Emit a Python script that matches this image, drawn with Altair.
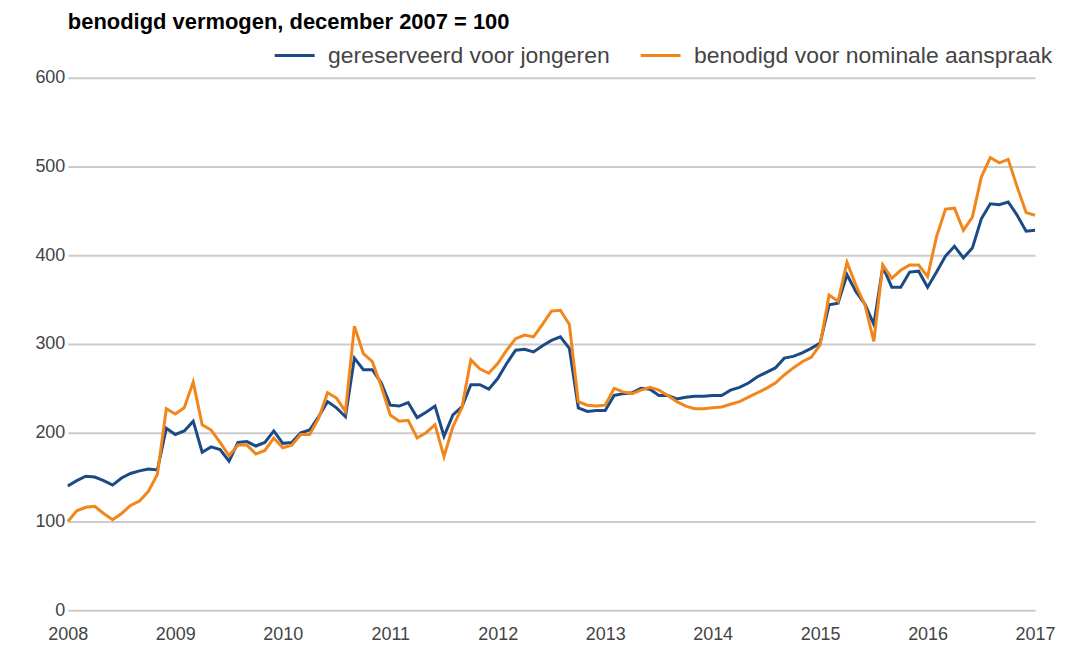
import altair as alt
import pandas as pd

# Monthly values, December 2007 .. December 2016 (index, dec 2007 = 100)
blauw = [140, 146, 151, 150, 146, 141, 149, 154, 157, 159, 158, 205,
         198, 202, 213, 178, 184, 181, 168, 189, 190, 185, 189, 202,
         188, 189, 200, 203, 218, 235, 228, 218, 284, 271, 271, 256,
         231, 230, 234, 217, 223, 230, 196, 220, 229, 254, 254, 249,
         261, 278, 293, 294, 291, 298, 304, 308, 295, 228, 224, 225,
         225, 242, 244, 245, 250, 249, 242, 242, 238, 240, 241, 241,
         242, 242, 248, 251, 256, 263, 268, 273, 284, 286, 290, 295,
         301, 344, 346, 378, 359, 345, 322, 387, 364, 364, 381, 382,
         364, 381, 399, 410, 397, 408, 441, 458, 457, 460, 445, 427, 428]
oranje = [100, 112, 116, 117, 109, 102, 109, 118, 123, 134, 153, 227,
          221, 228, 257, 209, 203, 189, 174, 186, 186, 176, 180, 194,
          183, 186, 198, 198, 216, 245, 239, 224, 320, 289, 280, 252,
          220, 213, 214, 194, 200, 209, 173, 207, 228, 282, 272, 267,
          278, 293, 306, 310, 308, 322, 337, 338, 322, 235, 231, 230,
          231, 250, 246, 244, 248, 251, 248, 242, 235, 230, 227, 227,
          228, 229, 232, 235, 240, 245, 250, 256, 265, 273, 280, 285,
          299, 355, 348, 392, 366, 344, 303, 389, 374, 383, 389, 389,
          376, 421, 452, 453, 428, 443, 488, 510, 504, 508, 477, 448, 445]

reeks_blauw = "gereserveerd voor jongeren"
reeks_oranje = "benodigd voor nominale aanspraak"
jaar_ticks = list(range(2008, 2018))

rows = []
for i, (b, o) in enumerate(zip(blauw, oranje)):
    t = 2008 + i / 12
    rows.append({"t": t, "waarde": b, "reeks": reeks_blauw})
    rows.append({"t": t, "waarde": o, "reeks": reeks_oranje})
df = pd.DataFrame(rows)

FONT = "Liberation Sans"

chart = alt.Chart(df).mark_line(strokeWidth=3).encode(
    x=alt.X("t:Q", title=None,
            scale=alt.Scale(domain=[2008, 2017], nice=False, zero=False),
            axis=alt.Axis(values=jaar_ticks, format="d", grid=False, domain=False,
                          ticks=False, labelPadding=15, labelFontSize=18,
                          labelFlush=False, labelBound=False,
                          labelColor="#444444", labelFont=FONT)),
    y=alt.Y("waarde:Q", title=None,
            scale=alt.Scale(domain=[0, 600], nice=False),
            axis=alt.Axis(values=[0, 100, 200, 300, 400, 500, 600], grid=True,
                          gridColor="#cccccc", gridWidth=2, domain=False, ticks=False,
                          labelPadding=3, labelFontSize=18, labelColor="#444444",
                          labelFont=FONT)),
    color=alt.Color("reeks:N", title=None,
                    scale=alt.Scale(domain=[reeks_blauw, reeks_oranje],
                                    range=["#1c4a87", "#f2861a"]),
                    sort=[reeks_blauw, reeks_oranje],
                    legend=alt.Legend(orient="none", legendX=206, legendY=-44,
                                      direction="horizontal", symbolType="stroke",
                                      symbolSize=1600, symbolStrokeWidth=3,
                                      labelFontSize=23, labelFont=FONT,
                                      labelColor="#444444", columnPadding=24,
                                      labelOffset=12, labelLimit=500)),
).properties(
    width=970,
    height=534,
    title=alt.TitleParams("benodigd vermogen, december 2007 = 100", anchor="start",
                          font=FONT, fontSize=22, fontWeight="bold", color="#000000",
                          frame="group", offset=6, dy=6),
    autosize=alt.AutoSizeParams(type="none"),
    padding={"left": 60, "top": 69, "right": 22, "bottom": 32},
).configure_view(stroke=None)

chart.save("out.html", embed_options={"renderer": "svg", "actions": False})
